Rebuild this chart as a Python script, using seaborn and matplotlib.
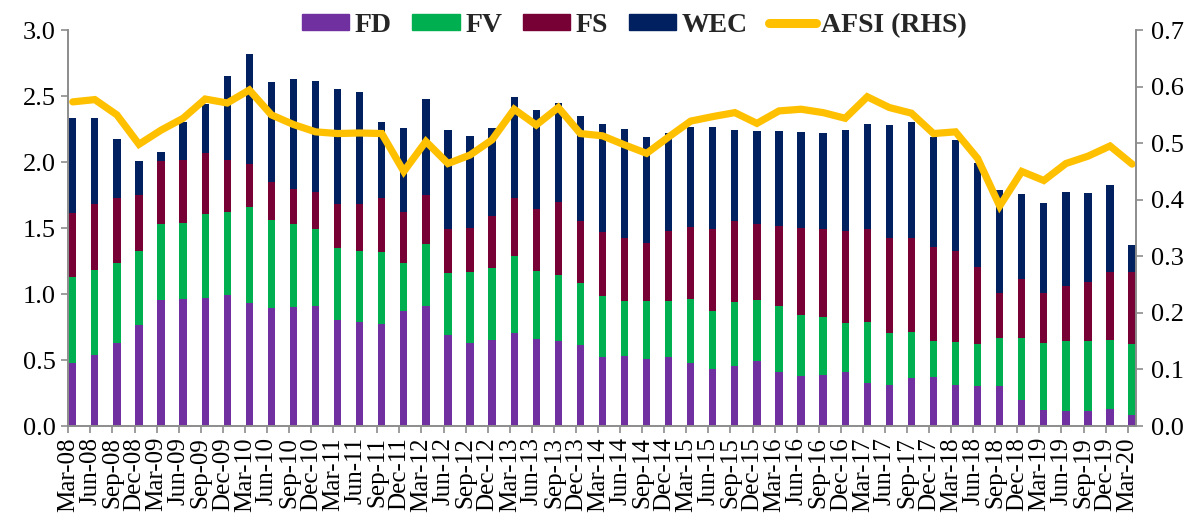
import numpy as np
import pandas as pd
import matplotlib
matplotlib.use("Agg")
import matplotlib.pyplot as plt
from matplotlib.patches import Patch
from matplotlib.lines import Line2D
import seaborn as sns

quarters = ["Mar-08", "Jun-08", "Sep-08", "Dec-08", "Mar-09", "Jun-09", "Sep-09", "Dec-09",
            "Mar-10", "Jun-10", "Sep-10", "Dec-10", "Mar-11", "Jun-11", "Sep-11", "Dec-11",
            "Mar-12", "Jun-12", "Sep-12", "Dec-12", "Mar-13", "Jun-13", "Sep-13", "Dec-13",
            "Mar-14", "Jun-14", "Sep-14", "Dec-14", "Mar-15", "Jun-15", "Sep-15", "Dec-15",
            "Mar-16", "Jun-16", "Sep-16", "Dec-16", "Mar-17", "Jun-17", "Sep-17", "Dec-17",
            "Mar-18", "Jun-18", "Sep-18", "Dec-18", "Mar-19", "Jun-19", "Sep-19", "Dec-19",
            "Mar-20"]

# cumulative tops, converted to component values below
fd_top = [0.48, 0.535, 0.626, 0.763, 0.955, 0.962, 0.972, 0.995, 0.934, 0.896, 0.904, 0.912, 0.806,
          0.79, 0.775, 0.871, 0.912, 0.689, 0.631, 0.654, 0.702, 0.657, 0.646, 0.614, 0.523, 0.533,
          0.508, 0.523, 0.475, 0.432, 0.455, 0.492, 0.409, 0.379, 0.389, 0.412, 0.323, 0.313, 0.366,
          0.371, 0.313, 0.306, 0.306, 0.20, 0.119, 0.116, 0.111, 0.126, 0.086]
fv_top = [1.126, 1.18, 1.237, 1.326, 1.53, 1.538, 1.606, 1.624, 1.659, 1.563, 1.53, 1.492, 1.346,
          1.328, 1.316, 1.235, 1.381, 1.162, 1.164, 1.197, 1.285, 1.174, 1.144, 1.083, 0.985, 0.949,
          0.947, 0.949, 0.965, 0.874, 0.939, 0.955, 0.909, 0.843, 0.828, 0.778, 0.79, 0.707, 0.715,
          0.644, 0.639, 0.624, 0.669, 0.669, 0.632, 0.644, 0.641, 0.652, 0.621]
fs_top = [1.61, 1.68, 1.725, 1.747, 2.005, 2.013, 2.066, 2.013, 1.982, 1.848, 1.795, 1.77, 1.679,
          1.679, 1.727, 1.621, 1.753, 1.49, 1.497, 1.591, 1.727, 1.641, 1.70, 1.556, 1.47, 1.427,
          1.389, 1.48, 1.505, 1.492, 1.551, 1.533, 1.518, 1.503, 1.492, 1.48, 1.492, 1.427, 1.427,
          1.354, 1.328, 1.202, 1.005, 1.111, 1.005, 1.061, 1.093, 1.167, 1.167]
wec_top = [2.336, 2.336, 2.174, 2.005, 2.078, 2.306, 2.44, 2.654, 2.816, 2.606, 2.626, 2.614, 2.55,
           2.53, 2.303, 2.255, 2.48, 2.242, 2.20, 2.255, 2.49, 2.394, 2.444, 2.351, 2.288, 2.247,
           2.187, 2.217, 2.263, 2.268, 2.242, 2.235, 2.235, 2.225, 2.22, 2.24, 2.285, 2.278, 2.303,
           2.187, 2.167, 1.99, 1.788, 1.758, 1.692, 1.775, 1.768, 1.826, 1.371]
afsi = [0.573, 0.577, 0.55, 0.498, 0.523, 0.544, 0.578, 0.571, 0.594, 0.55, 0.533, 0.52, 0.517,
        0.518, 0.517, 0.45, 0.503, 0.464, 0.479, 0.506, 0.56, 0.532, 0.563, 0.517, 0.513, 0.497,
        0.482, 0.511, 0.539, 0.547, 0.554, 0.535, 0.557, 0.56, 0.554, 0.544, 0.582, 0.563, 0.553,
        0.517, 0.52, 0.473, 0.389, 0.45, 0.434, 0.464, 0.477, 0.495, 0.463]

fd = np.array(fd_top)
fv = np.array(fv_top) - np.array(fd_top)
fs = np.array(fs_top) - np.array(fv_top)
wec = np.array(wec_top) - np.array(fs_top)

colors = {"FD": "#7030A0", "FV": "#00B050", "FS": "#770035", "WEC": "#002060", "AFSI": "#FFC000"}

sns.set_theme(style="white")
plt.rcParams["font.family"] = ["Liberation Serif", "DejaVu Serif"]

fig = plt.figure(figsize=(11.97, 5.24), dpi=100)
ax = fig.add_axes([0.0571, 0.187, 0.892, 0.7557])

df = pd.DataFrame({"q": quarters, "FD": fd, "FV": fv, "FS": fs, "WEC": wec})
df["c1"] = df["FD"]
df["c2"] = df["c1"] + df["FV"]
df["c3"] = df["c2"] + df["FS"]
df["c4"] = df["c3"] + df["WEC"]

for col, name in [("c4", "WEC"), ("c3", "FS"), ("c2", "FV"), ("c1", "FD")]:
    sns.barplot(data=df, x="q", y=col, order=quarters, color=colors[name], width=0.33,
                linewidth=0, saturation=1, ax=ax)

n = len(quarters)
ax.set_ylim(0, 3.0)
ax.set_yticks(np.arange(0, 3.01, 0.5))
ax.set_yticklabels([f"{v:.1f}" for v in np.arange(0, 3.01, 0.5)], fontsize=19)
ax.set_xlim(-0.2, n - 1 + 0.18)
ax.set_xticks(np.arange(n) - 0.2)
ax.set_xticklabels(quarters, rotation=90, fontsize=18)
ax.set_xlabel("")
ax.set_ylabel("")

ax2 = ax.twinx()
sns.lineplot(x=np.arange(n), y=afsi, color=colors["AFSI"], linewidth=5.2, ax=ax2,
             solid_joinstyle="miter")
ax2.set_ylim(0, 0.7)
ax2.set_yticks(np.arange(0, 0.71, 0.1))
ax2.set_yticklabels([f"{v:.1f}" for v in np.arange(0, 0.71, 0.1)], fontsize=19)
ax2.set_xlim(-0.2, n - 1 + 0.18)

gray = "#8C8C8C"
for a in (ax, ax2):
    a.spines["top"].set_visible(False)
    for s in ("left", "right", "bottom"):
        a.spines[s].set_color(gray)
        a.spines[s].set_linewidth(1.2)
    a.tick_params(axis="both", colors=gray, length=5, width=1.2, labelcolor="black", pad=3)
ax.tick_params(axis="y", left=True, pad=4)
ax2.tick_params(axis="y", right=True, pad=6)
ax.tick_params(axis="x", bottom=True, pad=3)

handles = [Patch(color=colors["FD"], label="FD"), Patch(color=colors["FV"], label="FV"),
           Patch(color=colors["FS"], label="FS"), Patch(color=colors["WEC"], label="WEC"),
           Line2D([0], [0], color=colors["AFSI"], lw=6.5, solid_capstyle="round", label="AFSI (RHS)")]
fig.legend(handles=handles, loc="center", bbox_to_anchor=(0.53, 0.952), ncol=5, frameon=False,
           prop={"size": 20, "weight": "semibold"}, handlelength=1.7, handleheight=0.5,
           handletextpad=0.2, columnspacing=0.75)

fig.savefig("out.png", dpi=100)
